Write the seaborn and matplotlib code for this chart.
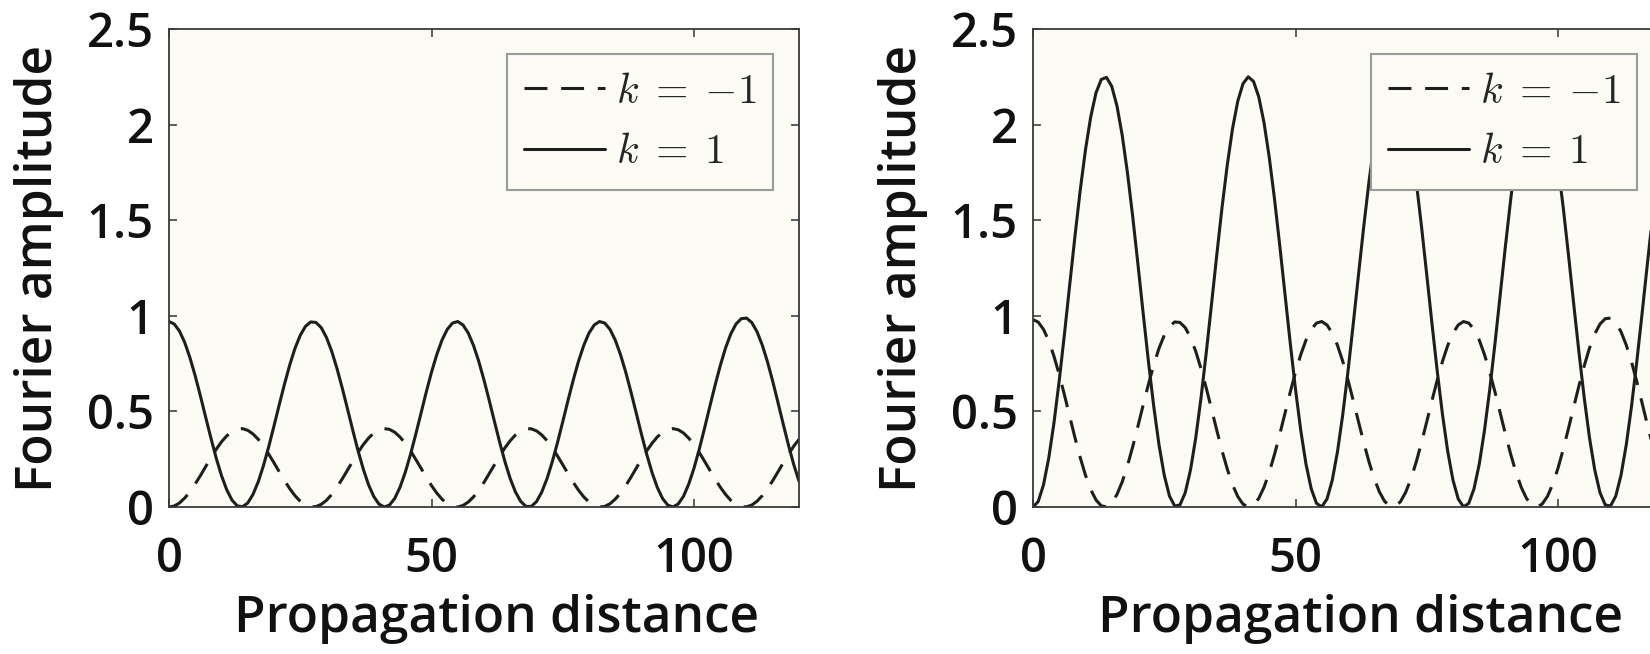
import numpy as np
import matplotlib
matplotlib.use("Agg")
import matplotlib.pyplot as plt
import seaborn as sns

# propagation distance samples (one per unit)
distance = np.arange(0, 121)

# left panel: Fourier amplitudes
left_k1 = [0.970, 0.957, 0.920, 0.860, 0.780, 0.685, 0.579, 0.468, 0.359, 0.255,
           0.164, 0.090, 0.036, 0.006, 0.001, 0.021, 0.066, 0.132, 0.217, 0.316,
           0.424, 0.535, 0.643, 0.743, 0.830, 0.898, 0.945, 0.968, 0.965, 0.938,
           0.886, 0.814, 0.724, 0.622, 0.513, 0.402, 0.295, 0.199, 0.117, 0.055,
           0.015, 0.000, 0.010, 0.045, 0.103, 0.181, 0.275, 0.380, 0.490, 0.601,
           0.705, 0.797, 0.873, 0.929, 0.962, 0.970, 0.952, 0.910, 0.845, 0.762,
           0.664, 0.557, 0.446, 0.337, 0.236, 0.148, 0.078, 0.029, 0.003, 0.003,
           0.028, 0.078, 0.148, 0.236, 0.337, 0.446, 0.557, 0.664, 0.762, 0.845,
           0.910, 0.952, 0.970, 0.962, 0.929, 0.873, 0.797, 0.705, 0.601, 0.491,
           0.380, 0.275, 0.181, 0.103, 0.045, 0.010, 0.000, 0.016, 0.056, 0.120,
           0.203, 0.302, 0.411, 0.524, 0.635, 0.739, 0.831, 0.905, 0.957, 0.985,
           0.988, 0.965, 0.917, 0.847, 0.759, 0.657, 0.546, 0.433, 0.323, 0.222,
           0.135]
left_km1 = [0.000, 0.005, 0.021, 0.047, 0.080, 0.121, 0.165, 0.212, 0.258, 0.302,
            0.341, 0.372, 0.395, 0.407, 0.410, 0.401, 0.382, 0.354, 0.318, 0.276,
            0.231, 0.184, 0.138, 0.096, 0.059, 0.030, 0.010, 0.001, 0.002, 0.014,
            0.035, 0.066, 0.104, 0.147, 0.193, 0.240, 0.285, 0.326, 0.360, 0.387,
            0.404, 0.410, 0.406, 0.391, 0.366, 0.333, 0.294, 0.249, 0.203, 0.156,
            0.112, 0.073, 0.041, 0.017, 0.003, 0.000, 0.008, 0.026, 0.053, 0.088,
            0.129, 0.175, 0.221, 0.267, 0.310, 0.347, 0.377, 0.398, 0.409, 0.409,
            0.398, 0.377, 0.347, 0.310, 0.267, 0.221, 0.175, 0.129, 0.088, 0.053,
            0.026, 0.008, 0.000, 0.003, 0.017, 0.041, 0.073, 0.112, 0.156, 0.203,
            0.249, 0.294, 0.333, 0.366, 0.391, 0.406, 0.410, 0.404, 0.387, 0.360,
            0.326, 0.285, 0.240, 0.193, 0.147, 0.104, 0.066, 0.035, 0.014, 0.002,
            0.001, 0.010, 0.030, 0.059, 0.096, 0.138, 0.184, 0.231, 0.276, 0.318,
            0.354]

# right panel
right_k1 = [0.000, 0.029, 0.116, 0.256, 0.441, 0.662, 0.907, 1.164, 1.418, 1.658,
            1.869, 2.041, 2.166, 2.236, 2.247, 2.200, 2.097, 1.943, 1.746, 1.517,
            1.267, 1.009, 0.758, 0.526, 0.325, 0.166, 0.057, 0.005, 0.011, 0.075,
            0.194, 0.362, 0.570, 0.807, 1.060, 1.317, 1.565, 1.788, 1.978, 2.122,
            2.214, 2.250, 2.226, 2.145, 2.011, 1.829, 1.611, 1.368, 1.113, 0.857,
            0.616, 0.401, 0.224, 0.095, 0.019, 0.001, 0.042, 0.140, 0.290, 0.483,
            0.710, 0.958, 1.215, 1.467, 1.702, 1.907, 2.070, 2.184, 2.243, 2.243,
            2.184, 2.070, 1.907, 1.702, 1.467, 1.215, 0.958, 0.710, 0.483, 0.290,
            0.140, 0.042, 0.001, 0.019, 0.095, 0.224, 0.401, 0.615, 0.856, 1.112,
            1.368, 1.611, 1.829, 2.010, 2.145, 2.226, 2.250, 2.215, 2.122, 1.978,
            1.789, 1.565, 1.317, 1.060, 0.807, 0.570, 0.362, 0.194, 0.075, 0.011,
            0.005, 0.057, 0.166, 0.325, 0.526, 0.758, 1.008, 1.266, 1.516, 1.746,
            1.943]
right_km1 = [0.980, 0.967, 0.929, 0.869, 0.788, 0.692, 0.585, 0.473, 0.362, 0.258,
             0.166, 0.091, 0.037, 0.006, 0.001, 0.021, 0.066, 0.132, 0.217, 0.316,
             0.424, 0.535, 0.643, 0.743, 0.830, 0.898, 0.945, 0.968, 0.965, 0.938,
             0.886, 0.814, 0.724, 0.622, 0.513, 0.402, 0.295, 0.199, 0.117, 0.055,
             0.015, 0.000, 0.010, 0.045, 0.103, 0.181, 0.275, 0.380, 0.490, 0.601,
             0.705, 0.797, 0.873, 0.929, 0.962, 0.970, 0.952, 0.910, 0.845, 0.762,
             0.664, 0.557, 0.446, 0.337, 0.236, 0.148, 0.078, 0.029, 0.003, 0.003,
             0.028, 0.078, 0.148, 0.236, 0.337, 0.446, 0.557, 0.664, 0.762, 0.845,
             0.910, 0.952, 0.970, 0.962, 0.929, 0.873, 0.797, 0.705, 0.601, 0.491,
             0.380, 0.275, 0.181, 0.103, 0.045, 0.010, 0.000, 0.016, 0.056, 0.120,
             0.203, 0.302, 0.411, 0.524, 0.635, 0.739, 0.831, 0.905, 0.957, 0.985,
             0.988, 0.965, 0.917, 0.847, 0.759, 0.657, 0.546, 0.433, 0.323, 0.222,
             0.135]

xticks = [0, 50, 100]
yticks = [0, 0.5, 1, 1.5, 2, 2.5]
ytick_labels = ["0", "0.5", "1", "1.5", "2", "2.5"]
series_labels = [r"$k\;=\;{-1}$", r"$k\;=\;1$"]

sns.set_theme(style="ticks")
plt.rcParams["font.family"] = ["Open Sans", "DejaVu Sans"]
plt.rcParams["mathtext.fontset"] = "cm"

ink = "#1e1e1e"
txt = "#111111"
bg = "#fcfcf5"
weight = "semibold"

fig = plt.figure(figsize=(16.5, 6.54), dpi=100)
ax_l = fig.add_axes([169 / 1650, 1 - 507 / 654, 630 / 1650, 478 / 654])
ax_r = fig.add_axes([1033 / 1650, 1 - 507 / 654, 630 / 1650, 478 / 654])


def draw(ax, km1, k1):
    sns.lineplot(x=distance, y=km1, ax=ax, color=ink, lw=2.2,
                 linestyle=(0, (7.5, 4.5)), label=series_labels[0])
    sns.lineplot(x=distance, y=k1, ax=ax, color=ink, lw=2.2,
                 label=series_labels[1])
    ax.set_facecolor(bg)
    ax.set_xlim(0, 120)
    ax.set_ylim(0, 2.5)
    ax.set_xticks(xticks)
    ax.set_yticks(yticks)
    ax.set_yticklabels(ytick_labels)
    ax.tick_params(direction="in", length=6, width=1.2, top=True, right=True,
                   color="#444444", labelcolor=txt, labelsize=34)
    ax.tick_params(axis="x", pad=21)
    ax.tick_params(axis="y", pad=11)
    for lab in ax.get_xticklabels() + ax.get_yticklabels():
        lab.set_fontweight(weight)
    for sp in ax.spines.values():
        sp.set_color("#3a3a3a")
        sp.set_linewidth(1.3)
    ax.set_xlabel("Propagation distance", fontsize=37, color=txt,
                  fontweight=weight)
    ax.set_ylabel("Fourier amplitude", fontsize=37, color=txt,
                  fontweight=weight)
    ax.xaxis.set_label_coords(0.52, -0.182)
    ax.yaxis.set_label_coords(-0.167, 0.5)
    leg = ax.legend(loc="upper right", bbox_to_anchor=(0.959, 0.948),
                    borderaxespad=0, fontsize=30, frameon=True, fancybox=False,
                    edgecolor="#9a9a9a", facecolor=bg, framealpha=1,
                    handlelength=1.95, handletextpad=0.25, borderpad=0.4,
                    labelspacing=0.45)
    leg.get_frame().set_linewidth(1.5)


draw(ax_l, left_km1, left_k1)
draw(ax_r, right_km1, right_k1)

fig.savefig("out.png", dpi=100)
